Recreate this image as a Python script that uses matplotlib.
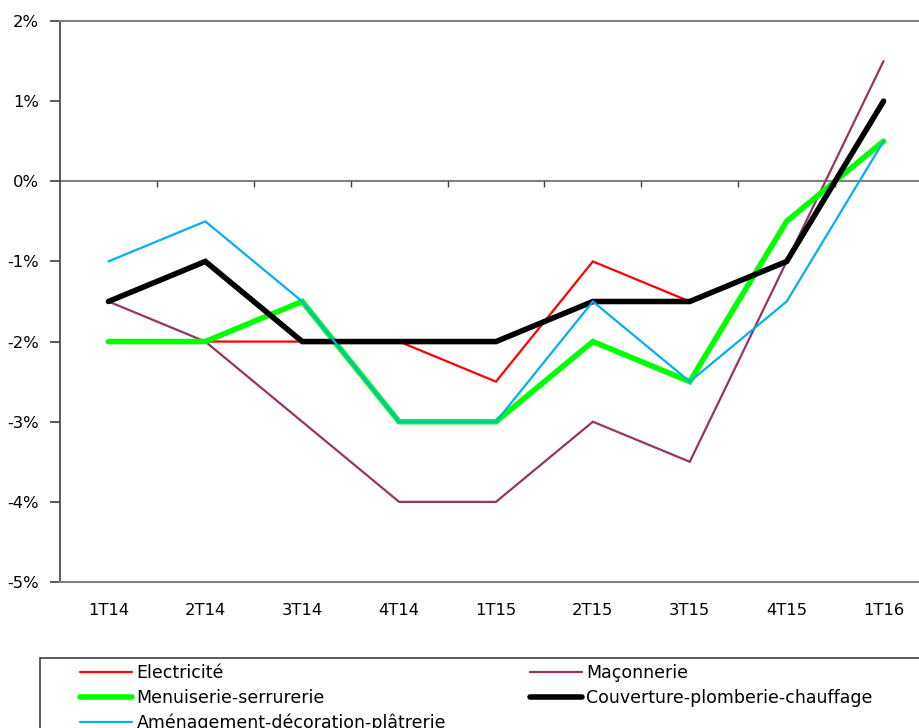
#!/usr/bin/env python3
"""Évolution trimestrielle de l'activité par corps de métier (1T14 - 1T16)"""

import numpy as np
import matplotlib
matplotlib.use("Agg")
import matplotlib.pyplot as plt
from matplotlib.patches import Rectangle

# données (en %)
trimestres = ["1T14", "2T14", "3T14", "4T14", "1T15", "2T15", "3T15", "4T15", "1T16"]
electricite = [-2, -2, -2, -2, -2.5, -1, -1.5, -1, 1]
maconnerie = [-1.5, -2, -3, -4, -4, -3, -3.5, -1, 1.5]
menuiserie = [-2, -2, -1.5, -3, -3, -2, -2.5, -0.5, 0.5]
couverture = [-1.5, -1, -2, -2, -2, -1.5, -1.5, -1, 1]
amenagement = [-1, -0.5, -1.5, -3, -3, -1.5, -2.5, -1.5, 0.5]

y_ticks = [2, 1, 0, -1, -2, -3, -4, -5]
y_labels = ["2%", "1%", "0%", "-1%", "-2%", "-3%", "-4%", "-5%"]

series = [
    ("Electricité", electricite, "#FF0000", 1.6),
    ("Maçonnerie", maconnerie, "#993366", 1.6),
    ("Menuiserie-serrurerie", menuiserie, "#00FF00", 4.0),
    ("Couverture-plomberie-chauffage", couverture, "#000000", 4.0),
    ("Aménagement-décoration-plâtrerie", amenagement, "#00B0F0", 1.6),
]

fig = plt.figure(figsize=(9.2, 7.28), dpi=100)
W, H = 920, 728
# la zone de tracé déborde à droite de l'image, comme sur l'original
ax = fig.add_axes([60 / W, 1 - 582 / H, 872 / W, 561 / H])

x = np.arange(len(trimestres))
handles = {}
for nom, vals, couleur, lw in series:
    (ln,) = ax.plot(x, vals, color=couleur, lw=lw, solid_capstyle="round",
                    solid_joinstyle="miter", label=nom)
    handles[nom] = ln

ax.set_xlim(-0.5, len(trimestres) - 0.5)
ax.set_ylim(min(y_ticks), max(y_ticks))

# axe horizontal à 0 avec graduations entre les trimestres
ax.axhline(0, color="#808080", lw=1.5, zorder=0)
ax.vlines(x[:-1] + 0.5, -0.075, 0, color="#404040", lw=1.0, zorder=0)

ax.set_xticks(x)
ax.set_xticklabels(trimestres, fontsize=11.8)
ax.tick_params(axis="x", length=0, pad=15)
ax.set_yticks(y_ticks)
ax.set_yticklabels(y_labels, fontsize=11.8)
ax.tick_params(axis="y", direction="out", length=7, width=1.2, color="#404040", pad=8)

for s in ["top", "bottom"]:
    ax.spines[s].set_color("#808080")
    ax.spines[s].set_linewidth(1.5)
ax.spines["left"].set_color("#404040")
ax.spines["left"].set_linewidth(1.2)
ax.spines["right"].set_visible(False)

# cadre de la légende (coupé en bas et à droite)
fig.patches.append(Rectangle((40 / W, -0.1), 1.0, 0.1 + 1 - 658 / H,
                             transform=fig.transFigure, fill=False,
                             edgecolor="#404040", lw=1.2))

police = {"family": "DejaVu Sans", "size": 12.5}
col1 = ["Electricité", "Menuiserie-serrurerie", "Aménagement-décoration-plâtrerie"]
col2 = ["Maçonnerie", "Couverture-plomberie-chauffage"]
for noms, x0 in [(col1, 80), (col2, 530)]:
    leg = fig.legend([handles[n] for n in noms], noms, loc="upper left",
                     bbox_to_anchor=(x0 / W, 1 - 664 / H), frameon=False,
                     prop=police, handlelength=3.0, handletextpad=0.25,
                     borderpad=0, borderaxespad=0, labelspacing=0.38)

fig.savefig("out.png", dpi=100)
